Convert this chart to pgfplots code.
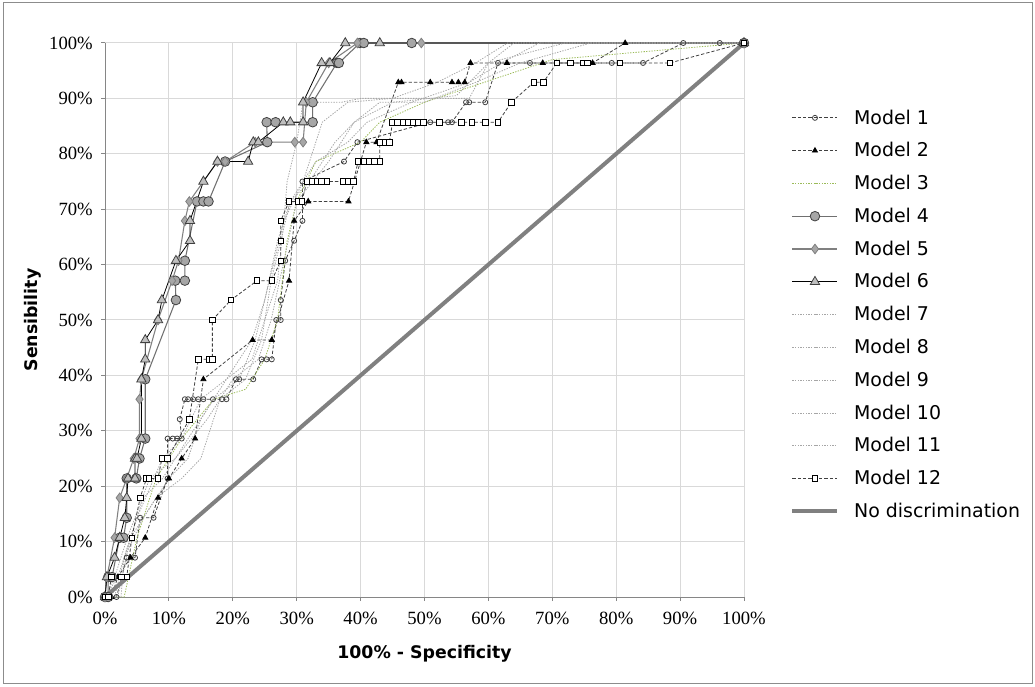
\documentclass[border=0pt]{standalone}
\usepackage{fontspec}
\setmainfont{DejaVu Sans}
\newfontfamily\tickfont{Liberation Serif}
\usepackage{pgfplots}
\pgfplotsset{compat=1.18}
\definecolor{gridc}{HTML}{D9D9D9}
\definecolor{axisc}{HTML}{868686}
\definecolor{borderc}{HTML}{8C8C8C}
\definecolor{dkline}{HTML}{404040}
\definecolor{dotc}{HTML}{A6A6A6}
\definecolor{m3c}{HTML}{9BBB59}
\definecolor{m4line}{HTML}{707070}
\definecolor{m4fill}{HTML}{A6A6A6}
\definecolor{m6fill}{HTML}{BFBFBF}
\definecolor{diagc}{HTML}{808080}
\begin{document}
\begin{tikzpicture}
\useasboundingbox (0,0) rectangle (776.25pt,514.5pt);
\draw[color=borderc, line width=0.75pt] (2.25pt,2.25pt) rectangle (774pt,512.25pt);
\begin{axis}[
  at={(78.75pt,66.75pt)}, anchor=south west,
  scale only axis, width=479.25pt, height=415.5pt,
  xmin=0, xmax=100, ymin=0, ymax=100,
  axis x line=bottom, axis y line=left,
  axis line style={-, color=axisc, line width=0.75pt},
  xtick={0,10,20,30,40,50,60,70,80,90,100},
  ytick={0,10,20,30,40,50,60,70,80,90,100},
  xticklabels={0\%,10\%,20\%,30\%,40\%,50\%,60\%,70\%,80\%,90\%,100\%},
  yticklabels={0\%,10\%,20\%,30\%,40\%,50\%,60\%,70\%,80\%,90\%,100\%},
  tick align=outside, major tick length=3pt,
  tick style={color=axisc, line width=0.75pt},
  grid=major, major grid style={color=gridc, line width=0.75pt},
  ticklabel style={font=\tickfont\fontsize{14}{16}\selectfont},
  yticklabel style={inner sep=0pt, xshift=-6pt},
  xticklabel style={inner sep=0pt, yshift=-8pt},
  xlabel={\textbf{100\% - Specificity}},
  ylabel={\textbf{Sensibility}},
  label style={font=\fontsize{13}{15}\selectfont},
  xlabel style={at={(axis description cs:0.5,-0.103)}, anchor=center},
  ylabel style={at={(axis description cs:-0.113,0.5)}, anchor=center},
  legend style={at={(1.066,0.885)}, anchor=north west, draw=none, fill=none,
    font=\fontsize{14.2}{16}\selectfont, row sep=12.3pt, column sep=11pt,
    nodes={inner sep=0pt, anchor=west}},
  legend cell align=left,
  legend image code/.code={\draw[mark repeat=2,mark phase=2,#1] plot coordinates {(0pt,0pt) (16.9pt,0pt) (33.75pt,0pt)};},
  clip=false,
]
% Model 1
\addplot[color=dkline, line width=0.6pt, dash pattern=on 2.5pt off 1.5pt, mark=o, mark size=1.9pt, mark options={solid, fill=white, draw=dkline, line width=0.6pt}] coordinates {
(0,0)(1.8,0)(3.4,7.1)(4.7,7.1)(5.5,14.3)(7.6,14.3)(9.8,21.4)(9.8,28.6)(10.6,28.6)(11.3,28.6)(12.0,28.6)(11.7,32.1)(12.5,35.7)(13.0,35.7)(13.8,35.7)(14.6,35.7)(15.4,35.7)(16.9,35.7)(18.3,35.7)(19.0,35.7)(20.5,39.3)(21.0,39.3)(23.2,39.3)(24.5,42.9)(25.3,42.9)(26.1,42.9)(26.8,50)(27.5,50)(27.5,53.6)(28.2,60.7)(29.6,64.3)(30.9,67.9)(30.9,75)(37.4,78.6)(39.5,82.1)(50.9,85.7)(53.7,85.7)(54.3,85.7)(56.5,89.3)(57.0,89.3)(59.5,89.3)(61.5,96.4)(66.5,96.4)(79.3,96.4)(84.2,96.4)(90.5,100)(96.2,100)(100,100)};
\addlegendentry{Model 1}
% Model 2
\addplot[color=dkline, line width=0.6pt, dash pattern=on 2.5pt off 1.5pt, mark=triangle*, mark size=2.2pt, mark options={solid, fill=black, draw=black}] coordinates {
(0,0)(1.0,0)(2.0,3.6)(4.0,7.1)(6.3,10.7)(8.3,17.9)(10.0,21.4)(12.0,25)(14.1,28.6)(15.4,39.3)(23.1,46.4)(26.1,46.4)(28.8,57.1)(29.6,67.9)(31.8,71.4)(38.1,71.4)(40.9,82.1)(42.5,82.1)(45.9,92.9)(46.4,92.9)(50.9,92.9)(54.3,92.9)(55.3,92.9)(56.3,92.9)(57.2,96.4)(62.9,96.4)(68.5,96.4)(76.3,96.4)(81.4,100)(100,100)};
\addlegendentry{Model 2}
% Model 3
\addplot[color=m3c, line width=0.6pt, dash pattern=on 1pt off 1pt, mark=none] coordinates {
(0,0)(3,0)(5,10.7)(8,21.4)(12,28.6)(17,35.7)(22,37.5)(25,42.9)(27,50)(28.5,64.3)(30,71.4)(33,78.6)(40,82.1)(43,85.7)(50,89.3)(70,97)(100,100)};
\addlegendentry{Model 3}
% Model 4
\addplot[color=m4line, line width=0.8pt, mark=*, mark size=3.6pt, mark options={fill=m4fill, draw=dkline, line width=0.6pt}] coordinates {
(0,0)(0.5,0)(0.5,3.6)(1.1,3.6)(2.3,10.7)(2.9,10.7)(3.4,14.3)(3.4,21.4)(4.9,21.4)(5.4,25)(6.3,28.6)(6.3,39.3)(11.1,53.6)(11.0,57.1)(12.5,57.1)(12.5,60.7)(14.4,71.4)(15.4,71.4)(16.2,71.4)(18.8,78.6)(25.4,82.1)(25.3,85.7)(26.7,85.7)(32.5,85.7)(32.5,89.3)(36.3,96.4)(36.6,96.4)(39.9,100)(40.5,100)(48,100)(100,100)};
\addlegendentry{Model 4}
% Model 5
\addplot[color=diagc, line width=0.8pt, mark=diamond*, mark size=3.6pt, mark options={fill=m4fill, draw=diagc, line width=0.6pt}] coordinates {
(0,0)(0.3,3.6)(1.5,10.7)(2.3,17.9)(3.4,21.4)(4.5,25)(5.4,28.6)(5.4,35.7)(5.7,39.3)(8.3,50)(10.5,57.1)(11.5,60.7)(12.5,67.9)(13.2,71.4)(17.6,78.6)(18.8,78.6)(23.5,82.1)(29.7,82.1)(31.0,82.1)(31.5,89.3)(35.0,96.4)(39.5,100)(49.5,100)(100,100)};
\addlegendentry{Model 5}
% Model 6
\addplot[color=black, line width=0.6pt, mark=triangle*, mark size=4pt, mark options={fill=m6fill, draw=dkline, line width=0.6pt}] coordinates {
(0,0)(0.3,3.6)(1.5,7.1)(2.3,10.7)(3.1,14.3)(3.4,17.9)(3.6,21.4)(4.7,21.4)(4.7,25)(5.0,25)(5.7,28.6)(5.7,39.3)(6.3,42.9)(6.3,46.4)(8.3,50)(8.9,53.6)(11.1,60.7)(13.3,64.3)(13.3,67.9)(15.4,75)(17.6,78.6)(22.4,78.6)(23.2,82.1)(24.0,82.1)(27.9,85.7)(29.0,85.7)(31.0,85.7)(31.0,89.3)(33.9,96.4)(35.2,96.4)(37.6,100)(43.0,100)(100,100)};
\addlegendentry{Model 6}
% Model 7
\addplot[color=dotc, line width=0.6pt, dash pattern=on 1pt off 1pt, mark=none] coordinates {
(0,0)(2.5,0)(3,7.1)(6,14.3)(10,21.4)(13,25)(15,32.1)(19,39.3)(23,46.4)(25,53.6)(26.5,60.7)(28,67.9)(28.5,75)(30,82.1)(31,89.3)(37,89.3)(40,90)(57,90)(60,96.4)(64,100)(100,100)};
\addlegendentry{Model 7}
% Model 8
\addplot[color=dotc, line width=0.6pt, dash pattern=on 1pt off 1pt, mark=none] coordinates {
(0,0)(2,3.6)(4,10.7)(8,17.9)(12,21.4)(15,25)(18,35.7)(22,39.3)(24.5,46.4)(26,57.1)(27.5,64.3)(29,71.4)(33,78.6)(38,82.1)(41,85.7)(48,89.3)(57,92.9)(62,96.4)(68,100)(100,100)};
\addlegendentry{Model 8}
% Model 9
\addplot[color=dotc, line width=0.6pt, dash pattern=on 1pt off 1pt, mark=none] coordinates {
(0,0)(1.5,3.6)(3.5,10.7)(7,21.4)(11,25)(16,32.1)(20,39.3)(24,42.9)(26,50)(28,60.7)(30,71.4)(35,78.6)(39,85.7)(45,89.3)(55,90.5)(60,96.4)(72,100)(100,100)};
\addlegendentry{Model 9}
% Model 10
\addplot[color=dotc, line width=0.6pt, dash pattern=on 1pt off 1pt, mark=none] coordinates {
(0,0)(2,0)(4,10.7)(6,17.9)(9,21.4)(13,28.6)(17,35.7)(21,39.3)(23.5,46.4)(25,53.6)(27,64.3)(29,71.4)(32,75)(36,82.1)(39,85.7)(43,89.3)(50,89.3)(58,92.9)(65,96.4)(76,100)(100,100)};
\addlegendentry{Model 10}
% Model 11
\addplot[color=dotc, line width=0.6pt, dash pattern=on 1pt off 1pt, mark=none] coordinates {
(0,0)(1.5,0)(3,7.1)(5,14.3)(9,25)(12,28.6)(15,35.7)(19,39.3)(23,42.9)(25,50)(27,57.1)(28,67.9)(31,75)(34,85.7)(38,89.3)(45,90)(52,92.9)(58,96.4)(63,100)(100,100)};
\addlegendentry{Model 11}
% Model 12
\addplot[color=dkline, line width=0.6pt, dash pattern=on 2.5pt off 1.5pt, mark=square*, mark size=2.1pt, mark options={solid, fill=white, draw=black, line width=0.6pt}] coordinates {
(0,0)(0.5,0)(1.0,3.6)(2.6,3.6)(3.4,3.6)(4.2,10.7)(5.5,17.9)(6.5,21.4)(6.9,21.4)(8.3,21.4)(8.9,25)(9.8,25)(13.2,32.1)(14.6,42.9)(16.3,42.9)(16.8,42.9)(16.8,50)(19.7,53.6)(23.8,57.1)(26.1,57.1)(27.5,60.7)(27.5,64.3)(27.5,67.9)(28.8,71.4)(30.3,71.4)(30.8,71.4)(31.6,75)(32.4,75)(33.2,75)(33.9,75)(34.7,75)(37.3,75)(38.1,75)(38.9,75)(39.6,78.6)(40.5,78.6)(41.4,78.6)(42.2,78.6)(43.0,78.6)(43.0,82.1)(43.8,82.1)(44.5,82.1)(45.0,85.7)(45.8,85.7)(46.6,85.7)(47.4,85.7)(48.2,85.7)(49.0,85.7)(49.8,85.7)(52.3,85.7)(55.8,85.7)(57.4,85.7)(59.5,85.7)(61.5,85.7)(63.6,89.3)(67.1,92.9)(68.6,92.9)(70.7,96.4)(72.8,96.4)(74.8,96.4)(75.5,96.4)(80.6,96.4)(88.4,96.4)(100,100)};
\addlegendentry{Model 12}
% No discrimination
\addplot[color=diagc, line width=3pt, mark=none] coordinates {(0,0)(100,100)};
\addlegendentry{No discrimination}
\end{axis}
\end{tikzpicture}
\end{document}
